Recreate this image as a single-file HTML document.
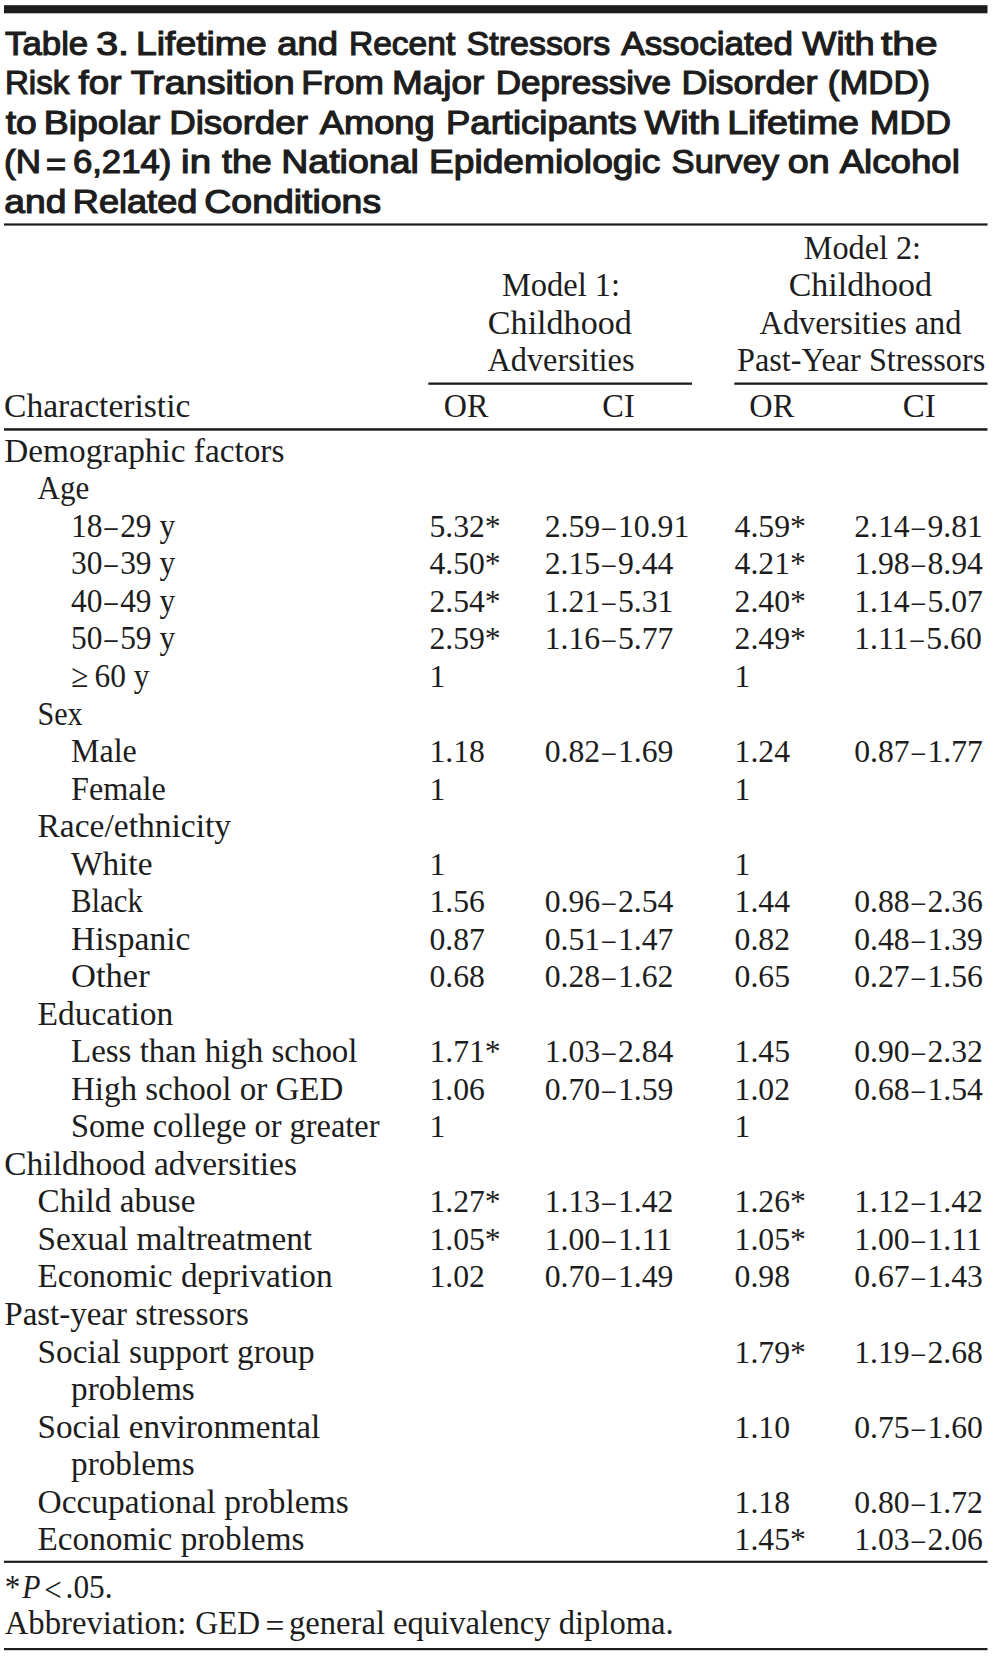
<!DOCTYPE html>
<html><head><meta charset="utf-8"><title>Table 3</title>
<style>
html,body{margin:0;padding:0;background:#fff;}
body{width:996px;height:1659px;overflow:hidden;}
svg{display:block;}
text{font-family:'Liberation Serif', serif;font-size:33px;fill:#1d1d1d;}
text.n{font-size:32px;}
text.t{font-family:'Liberation Sans', sans-serif;font-weight:normal;font-size:34px;stroke:#1d1d1d;stroke-width:1.2px;}
rect{fill:#1d1d1d;}
</style></head>
<body>
<svg width="996" height="1659" viewBox="0 0 996 1659">
<rect x="4" y="5.2" width="983.50" height="8.10"/>
<rect x="4" y="223.4" width="983.50" height="2.20"/>
<rect x="428.3" y="382.5" width="263.70" height="2.30"/>
<rect x="734.3" y="382.5" width="253.20" height="2.30"/>
<rect x="4" y="428.2" width="983.50" height="2.50"/>
<rect x="4" y="1560.7" width="983.50" height="2.20"/>
<rect x="4" y="1648.0" width="983.50" height="2.20"/>
<text class="t" transform="translate(5.11 54.75) scale(1.0224 1)">Table</text>
<text class="t" transform="translate(96.14 54.75) scale(1.1567 1)">3.</text>
<text class="t" transform="translate(136.06 54.75) scale(1.0977 1)">Lifetime</text>
<text class="t" transform="translate(277.17 54.75) scale(1.0724 1)">and</text>
<text class="t" transform="translate(349.02 54.75) scale(0.9862 1)">Recent</text>
<text class="t" transform="translate(466.60 54.75) scale(1.0008 1)">Stressors</text>
<text class="t" transform="translate(621.22 54.75) scale(1.0326 1)">Associated</text>
<text class="t" transform="translate(802.34 54.75) scale(1.0626 1)">With</text>
<text class="t" transform="translate(880.92 54.75) scale(1.1986 1)">the</text>
<text class="t" transform="translate(4.94 94.25) scale(0.9727 1)">Risk</text>
<text class="t" transform="translate(78.45 94.25) scale(1.0825 1)">for</text>
<text class="t" transform="translate(130.66 94.25) scale(1.1079 1)">Transition</text>
<text class="t" transform="translate(301.34 94.25) scale(1.0402 1)">From</text>
<text class="t" transform="translate(392.08 94.25) scale(1.0859 1)">Major</text>
<text class="t" transform="translate(495.66 94.25) scale(1.0317 1)">Depressive</text>
<text class="t" transform="translate(681.62 94.25) scale(1.0584 1)">Disorder</text>
<text class="t" transform="translate(827.87 94.25) scale(1.0209 1)">(MDD)</text>
<text class="t" transform="translate(5.66 133.85) scale(1.0961 1)">to</text>
<text class="t" transform="translate(43.66 133.85) scale(1.1021 1)">Bipolar</text>
<text class="t" transform="translate(169.19 133.85) scale(1.0804 1)">Disorder</text>
<text class="t" transform="translate(319.74 133.85) scale(1.0671 1)">Among</text>
<text class="t" transform="translate(446.00 133.85) scale(1.0737 1)">Participants</text>
<text class="t" transform="translate(644.57 133.85) scale(1.1131 1)">With</text>
<text class="t" transform="translate(727.15 133.85) scale(1.1070 1)">Lifetime</text>
<text class="t" transform="translate(869.73 133.85) scale(1.0496 1)">MDD</text>
<text class="t" transform="translate(4.06 173.35) scale(1.0270 1)">(N</text>
<text class="t" transform="translate(46.00 175.75) scale(1.0104 1)">=</text>
<text class="t" transform="translate(72.89 173.35) scale(1.0222 1)">6,214)</text>
<text class="t" transform="translate(181.11 173.35) scale(1.1325 1)">in</text>
<text class="t" transform="translate(221.93 173.35) scale(1.0556 1)">the</text>
<text class="t" transform="translate(281.26 173.35) scale(1.1030 1)">National</text>
<text class="t" transform="translate(428.97 173.35) scale(1.0931 1)">Epidemiologic</text>
<text class="t" transform="translate(671.59 173.35) scale(1.0168 1)">Survey</text>
<text class="t" transform="translate(787.76 173.35) scale(1.1050 1)">on</text>
<text class="t" transform="translate(839.65 173.35) scale(1.0777 1)">Alcohol</text>
<text class="t" transform="translate(4.36 212.85) scale(1.0942 1)">and</text>
<text class="t" transform="translate(72.81 212.85) scale(1.0631 1)">Related</text>
<text class="t" transform="translate(204.36 212.85) scale(1.1004 1)">Conditions</text>
<text transform="translate(803.70 258.60) scale(0.9779 1)">Model 2:</text>
<text transform="translate(502.00 296.10) scale(0.9838 1)">Model 1:</text>
<text transform="translate(788.67 296.10) scale(1.0285 1)">Childhood</text>
<text transform="translate(487.87 333.70) scale(1.0328 1)">Childhood</text>
<text transform="translate(759.60 333.70) scale(0.9792 1)">Adversities and</text>
<text transform="translate(487.50 370.90) scale(0.9782 1)">Adversities</text>
<text transform="translate(737.00 370.90) scale(0.9767 1)">Past-Year Stressors</text>
<text transform="translate(4.08 416.70) scale(1.0171 1)">Characteristic</text>
<text transform="translate(443.73 416.70) scale(0.9725 1)">OR</text>
<text transform="translate(602.32 416.70) scale(0.9803 1)">CI</text>
<text transform="translate(749.32 416.70) scale(0.9792 1)">OR</text>
<text transform="translate(902.80 416.70) scale(0.9964 1)">CI</text>
<text transform="translate(4.30 461.80) scale(1.0094 1)">Demographic factors</text>
<text transform="translate(37.50 499.33) scale(0.9405 1)">Age</text>
<text transform="translate(71.00 536.86) scale(0.9522 1)">18</text>
<text transform="translate(104.52 536.86) scale(0.7903 1)">–</text>
<text transform="translate(120.13 536.86) scale(0.9522 1)">29 y</text>
<text class="n" transform="translate(429.40 536.86) scale(0.9900 1)">5.32*</text>
<text class="n" transform="translate(544.70 536.86) scale(0.9900 1)">2.59</text>
<text class="n" transform="translate(602.29 536.86) scale(0.8217 1)">–</text>
<text class="n" transform="translate(617.98 536.86) scale(0.9900 1)">10.91</text>
<text class="n" transform="translate(734.60 536.86) scale(0.9900 1)">4.59*</text>
<text class="n" transform="translate(854.20 536.86) scale(0.9900 1)">2.14</text>
<text class="n" transform="translate(911.79 536.86) scale(0.8217 1)">–</text>
<text class="n" transform="translate(927.48 536.86) scale(0.9900 1)">9.81</text>
<text transform="translate(71.00 574.39) scale(0.9522 1)">30</text>
<text transform="translate(104.52 574.39) scale(0.7903 1)">–</text>
<text transform="translate(120.13 574.39) scale(0.9522 1)">39 y</text>
<text class="n" transform="translate(429.40 574.39) scale(0.9900 1)">4.50*</text>
<text class="n" transform="translate(544.70 574.39) scale(0.9900 1)">2.15</text>
<text class="n" transform="translate(602.29 574.39) scale(0.8217 1)">–</text>
<text class="n" transform="translate(617.98 574.39) scale(0.9900 1)">9.44</text>
<text class="n" transform="translate(734.60 574.39) scale(0.9900 1)">4.21*</text>
<text class="n" transform="translate(854.20 574.39) scale(0.9900 1)">1.98</text>
<text class="n" transform="translate(911.79 574.39) scale(0.8217 1)">–</text>
<text class="n" transform="translate(927.48 574.39) scale(0.9900 1)">8.94</text>
<text transform="translate(71.00 611.92) scale(0.9522 1)">40</text>
<text transform="translate(104.52 611.92) scale(0.7903 1)">–</text>
<text transform="translate(120.13 611.92) scale(0.9522 1)">49 y</text>
<text class="n" transform="translate(429.40 611.92) scale(0.9900 1)">2.54*</text>
<text class="n" transform="translate(544.70 611.92) scale(0.9900 1)">1.21</text>
<text class="n" transform="translate(602.29 611.92) scale(0.8217 1)">–</text>
<text class="n" transform="translate(617.98 611.92) scale(0.9900 1)">5.31</text>
<text class="n" transform="translate(734.60 611.92) scale(0.9900 1)">2.40*</text>
<text class="n" transform="translate(854.20 611.92) scale(0.9900 1)">1.14</text>
<text class="n" transform="translate(911.79 611.92) scale(0.8217 1)">–</text>
<text class="n" transform="translate(927.48 611.92) scale(0.9900 1)">5.07</text>
<text transform="translate(71.00 649.45) scale(0.9522 1)">50</text>
<text transform="translate(104.52 649.45) scale(0.7903 1)">–</text>
<text transform="translate(120.13 649.45) scale(0.9522 1)">59 y</text>
<text class="n" transform="translate(429.40 649.45) scale(0.9900 1)">2.59*</text>
<text class="n" transform="translate(544.70 649.45) scale(0.9900 1)">1.16</text>
<text class="n" transform="translate(602.29 649.45) scale(0.8217 1)">–</text>
<text class="n" transform="translate(617.98 649.45) scale(0.9900 1)">5.77</text>
<text class="n" transform="translate(734.60 649.45) scale(0.9900 1)">2.49*</text>
<text class="n" transform="translate(854.20 649.45) scale(0.9900 1)">1.11</text>
<text class="n" transform="translate(910.61 649.45) scale(0.8217 1)">–</text>
<text class="n" transform="translate(926.30 649.45) scale(0.9900 1)">5.60</text>
<text transform="translate(71.00 686.98) scale(0.9522 1)">≥ 60 y</text>
<text class="n" transform="translate(429.40 686.98) scale(0.9900 1)">1</text>
<text class="n" transform="translate(734.60 686.98) scale(0.9900 1)">1</text>
<text transform="translate(37.50 724.51) scale(0.9120 1)">Sex</text>
<text transform="translate(71.00 762.04) scale(0.9708 1)">Male</text>
<text class="n" transform="translate(429.40 762.04) scale(0.9900 1)">1.18</text>
<text class="n" transform="translate(544.70 762.04) scale(0.9900 1)">0.82</text>
<text class="n" transform="translate(602.29 762.04) scale(0.8217 1)">–</text>
<text class="n" transform="translate(617.98 762.04) scale(0.9900 1)">1.69</text>
<text class="n" transform="translate(734.60 762.04) scale(0.9900 1)">1.24</text>
<text class="n" transform="translate(854.20 762.04) scale(0.9900 1)">0.87</text>
<text class="n" transform="translate(911.79 762.04) scale(0.8217 1)">–</text>
<text class="n" transform="translate(927.48 762.04) scale(0.9900 1)">1.77</text>
<text transform="translate(71.00 799.57) scale(0.9774 1)">Female</text>
<text class="n" transform="translate(429.40 799.57) scale(0.9900 1)">1</text>
<text class="n" transform="translate(734.60 799.57) scale(0.9900 1)">1</text>
<text transform="translate(37.50 837.10) scale(1.0158 1)">Race/ethnicity</text>
<text transform="translate(71.00 874.63) scale(1.0102 1)">White</text>
<text class="n" transform="translate(429.40 874.63) scale(0.9900 1)">1</text>
<text class="n" transform="translate(734.60 874.63) scale(0.9900 1)">1</text>
<text transform="translate(71.00 912.16) scale(0.9345 1)">Black</text>
<text class="n" transform="translate(429.40 912.16) scale(0.9900 1)">1.56</text>
<text class="n" transform="translate(544.70 912.16) scale(0.9900 1)">0.96</text>
<text class="n" transform="translate(602.29 912.16) scale(0.8217 1)">–</text>
<text class="n" transform="translate(617.98 912.16) scale(0.9900 1)">2.54</text>
<text class="n" transform="translate(734.60 912.16) scale(0.9900 1)">1.44</text>
<text class="n" transform="translate(854.20 912.16) scale(0.9900 1)">0.88</text>
<text class="n" transform="translate(911.79 912.16) scale(0.8217 1)">–</text>
<text class="n" transform="translate(927.48 912.16) scale(0.9900 1)">2.36</text>
<text transform="translate(71.00 949.69) scale(1.0184 1)">Hispanic</text>
<text class="n" transform="translate(429.40 949.69) scale(0.9900 1)">0.87</text>
<text class="n" transform="translate(544.70 949.69) scale(0.9900 1)">0.51</text>
<text class="n" transform="translate(602.29 949.69) scale(0.8217 1)">–</text>
<text class="n" transform="translate(617.98 949.69) scale(0.9900 1)">1.47</text>
<text class="n" transform="translate(734.60 949.69) scale(0.9900 1)">0.82</text>
<text class="n" transform="translate(854.20 949.69) scale(0.9900 1)">0.48</text>
<text class="n" transform="translate(911.79 949.69) scale(0.8217 1)">–</text>
<text class="n" transform="translate(927.48 949.69) scale(0.9900 1)">1.39</text>
<text transform="translate(71.00 987.22) scale(1.0473 1)">Other</text>
<text class="n" transform="translate(429.40 987.22) scale(0.9900 1)">0.68</text>
<text class="n" transform="translate(544.70 987.22) scale(0.9900 1)">0.28</text>
<text class="n" transform="translate(602.29 987.22) scale(0.8217 1)">–</text>
<text class="n" transform="translate(617.98 987.22) scale(0.9900 1)">1.62</text>
<text class="n" transform="translate(734.60 987.22) scale(0.9900 1)">0.65</text>
<text class="n" transform="translate(854.20 987.22) scale(0.9900 1)">0.27</text>
<text class="n" transform="translate(911.79 987.22) scale(0.8217 1)">–</text>
<text class="n" transform="translate(927.48 987.22) scale(0.9900 1)">1.56</text>
<text transform="translate(37.50 1024.75) scale(1.0158 1)">Education</text>
<text transform="translate(71.00 1062.28) scale(0.9993 1)">Less than high school</text>
<text class="n" transform="translate(429.40 1062.28) scale(0.9900 1)">1.71*</text>
<text class="n" transform="translate(544.70 1062.28) scale(0.9900 1)">1.03</text>
<text class="n" transform="translate(602.29 1062.28) scale(0.8217 1)">–</text>
<text class="n" transform="translate(617.98 1062.28) scale(0.9900 1)">2.84</text>
<text class="n" transform="translate(734.60 1062.28) scale(0.9900 1)">1.45</text>
<text class="n" transform="translate(854.20 1062.28) scale(0.9900 1)">0.90</text>
<text class="n" transform="translate(911.79 1062.28) scale(0.8217 1)">–</text>
<text class="n" transform="translate(927.48 1062.28) scale(0.9900 1)">2.32</text>
<text transform="translate(71.00 1099.81) scale(1.0001 1)">High school or GED</text>
<text class="n" transform="translate(429.40 1099.81) scale(0.9900 1)">1.06</text>
<text class="n" transform="translate(544.70 1099.81) scale(0.9900 1)">0.70</text>
<text class="n" transform="translate(602.29 1099.81) scale(0.8217 1)">–</text>
<text class="n" transform="translate(617.98 1099.81) scale(0.9900 1)">1.59</text>
<text class="n" transform="translate(734.60 1099.81) scale(0.9900 1)">1.02</text>
<text class="n" transform="translate(854.20 1099.81) scale(0.9900 1)">0.68</text>
<text class="n" transform="translate(911.79 1099.81) scale(0.8217 1)">–</text>
<text class="n" transform="translate(927.48 1099.81) scale(0.9900 1)">1.54</text>
<text transform="translate(71.00 1137.34) scale(0.9819 1)">Some college or greater</text>
<text class="n" transform="translate(429.40 1137.34) scale(0.9900 1)">1</text>
<text class="n" transform="translate(734.60 1137.34) scale(0.9900 1)">1</text>
<text transform="translate(4.30 1174.87) scale(1.0143 1)">Childhood adversities</text>
<text transform="translate(37.50 1212.40) scale(1.0084 1)">Child abuse</text>
<text class="n" transform="translate(429.40 1212.40) scale(0.9900 1)">1.27*</text>
<text class="n" transform="translate(544.70 1212.40) scale(0.9900 1)">1.13</text>
<text class="n" transform="translate(602.29 1212.40) scale(0.8217 1)">–</text>
<text class="n" transform="translate(617.98 1212.40) scale(0.9900 1)">1.42</text>
<text class="n" transform="translate(734.60 1212.40) scale(0.9900 1)">1.26*</text>
<text class="n" transform="translate(854.20 1212.40) scale(0.9900 1)">1.12</text>
<text class="n" transform="translate(911.79 1212.40) scale(0.8217 1)">–</text>
<text class="n" transform="translate(927.48 1212.40) scale(0.9900 1)">1.42</text>
<text transform="translate(37.50 1249.93) scale(1.0096 1)">Sexual maltreatment</text>
<text class="n" transform="translate(429.40 1249.93) scale(0.9900 1)">1.05*</text>
<text class="n" transform="translate(544.70 1249.93) scale(0.9900 1)">1.00</text>
<text class="n" transform="translate(602.29 1249.93) scale(0.8217 1)">–</text>
<text class="n" transform="translate(617.98 1249.93) scale(0.9900 1)">1.11</text>
<text class="n" transform="translate(734.60 1249.93) scale(0.9900 1)">1.05*</text>
<text class="n" transform="translate(854.20 1249.93) scale(0.9900 1)">1.00</text>
<text class="n" transform="translate(911.79 1249.93) scale(0.8217 1)">–</text>
<text class="n" transform="translate(927.48 1249.93) scale(0.9900 1)">1.11</text>
<text transform="translate(37.50 1287.46) scale(1.0102 1)">Economic deprivation</text>
<text class="n" transform="translate(429.40 1287.46) scale(0.9900 1)">1.02</text>
<text class="n" transform="translate(544.70 1287.46) scale(0.9900 1)">0.70</text>
<text class="n" transform="translate(602.29 1287.46) scale(0.8217 1)">–</text>
<text class="n" transform="translate(617.98 1287.46) scale(0.9900 1)">1.49</text>
<text class="n" transform="translate(734.60 1287.46) scale(0.9900 1)">0.98</text>
<text class="n" transform="translate(854.20 1287.46) scale(0.9900 1)">0.67</text>
<text class="n" transform="translate(911.79 1287.46) scale(0.8217 1)">–</text>
<text class="n" transform="translate(927.48 1287.46) scale(0.9900 1)">1.43</text>
<text transform="translate(4.30 1324.99) scale(0.9994 1)">Past-year stressors</text>
<text transform="translate(37.50 1362.52) scale(1.0081 1)">Social support group</text>
<text class="n" transform="translate(734.60 1362.52) scale(0.9900 1)">1.79*</text>
<text class="n" transform="translate(854.20 1362.52) scale(0.9900 1)">1.19</text>
<text class="n" transform="translate(911.79 1362.52) scale(0.8217 1)">–</text>
<text class="n" transform="translate(927.48 1362.52) scale(0.9900 1)">2.68</text>
<text transform="translate(71.00 1400.05) scale(1.0084 1)">problems</text>
<text transform="translate(37.50 1437.58) scale(1.0051 1)">Social environmental</text>
<text class="n" transform="translate(734.60 1437.58) scale(0.9900 1)">1.10</text>
<text class="n" transform="translate(854.20 1437.58) scale(0.9900 1)">0.75</text>
<text class="n" transform="translate(911.79 1437.58) scale(0.8217 1)">–</text>
<text class="n" transform="translate(927.48 1437.58) scale(0.9900 1)">1.60</text>
<text transform="translate(71.00 1475.11) scale(1.0084 1)">problems</text>
<text transform="translate(37.50 1512.64) scale(1.0142 1)">Occupational problems</text>
<text class="n" transform="translate(734.60 1512.64) scale(0.9900 1)">1.18</text>
<text class="n" transform="translate(854.20 1512.64) scale(0.9900 1)">0.80</text>
<text class="n" transform="translate(911.79 1512.64) scale(0.8217 1)">–</text>
<text class="n" transform="translate(927.48 1512.64) scale(0.9900 1)">1.72</text>
<text transform="translate(37.50 1550.17) scale(1.0083 1)">Economic problems</text>
<text class="n" transform="translate(734.60 1550.17) scale(0.9900 1)">1.45*</text>
<text class="n" transform="translate(854.20 1550.17) scale(0.9900 1)">1.03</text>
<text class="n" transform="translate(911.79 1550.17) scale(0.8217 1)">–</text>
<text class="n" transform="translate(927.48 1550.17) scale(0.9900 1)">2.06</text>
<text transform="translate(4.86 1598.20) scale(0.9429 1)">*</text>
<text style="font-style:italic" transform="translate(22.30 1598.20) scale(0.9048 1)">P</text>
<text transform="translate(44.26 1600.90) scale(0.9375 1)">&lt;</text>
<text transform="translate(65.60 1598.20) scale(0.9492 1)">.05.</text>
<text transform="translate(4.70 1633.80) scale(0.9916 1)">Abbreviation:</text>
<text transform="translate(195.14 1633.80) scale(0.9577 1)">GED</text>
<text transform="translate(265.59 1636.60) scale(1.0125 1)">=</text>
<text transform="translate(289.01 1633.80) scale(0.9882 1)">general equivalency diploma.</text>
</svg>
</body></html>
